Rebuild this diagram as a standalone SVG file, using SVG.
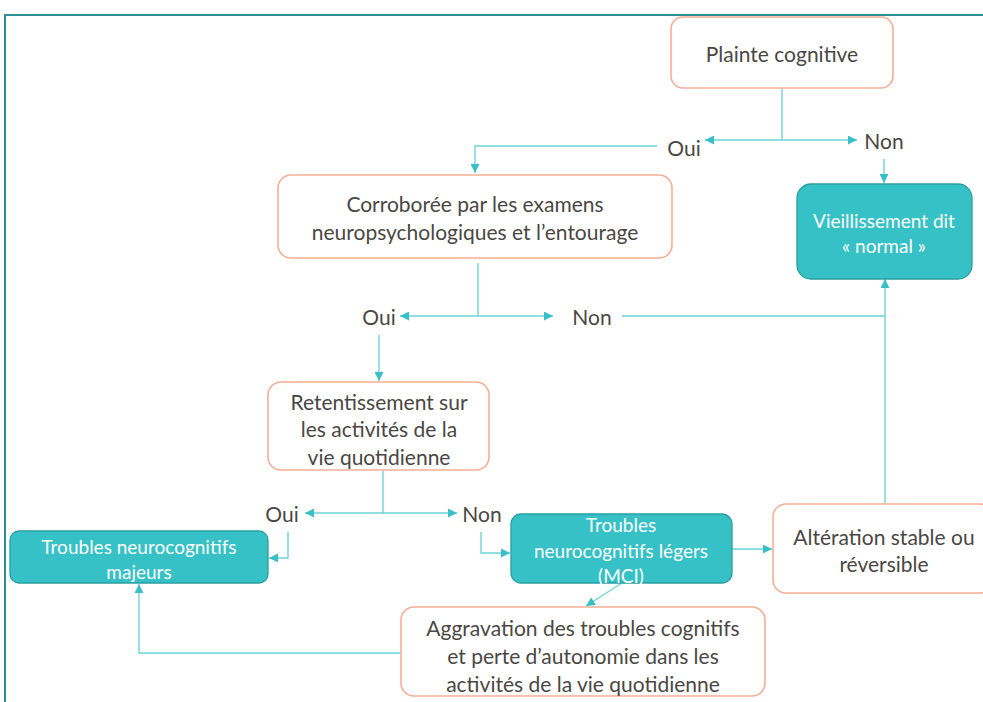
<svg xmlns="http://www.w3.org/2000/svg" width="983" height="702" viewBox="0 0 983 702">
<style>
.q{fill:#fff;stroke:#F5AE95;stroke-width:1.6}
.t{fill:#35C1C5;stroke:#2A9EA2;stroke-width:1.3}
.dk{font-family:Lato,"Open Sans","Liberation Sans",sans-serif;font-size:21px;fill:#4A4744;text-anchor:middle;dominant-baseline:central}
.wh{font-family:Lato,"Open Sans","Liberation Sans",sans-serif;font-size:19px;fill:#fff;text-anchor:middle;dominant-baseline:central}
.c{fill:none;stroke:#6DD3D8;stroke-width:1.4}
</style>
<defs>
<marker id="a" markerUnits="userSpaceOnUse" markerWidth="10" markerHeight="9" refX="9" refY="4.5" orient="auto">
<path d="M0,0 L9,4.5 L0,9 z" fill="#38BFC7"/>
</marker>
</defs>
<rect x="0" y="0" width="983" height="702" fill="#fff"/>
<path d="M5,702 V15 H983" fill="none" stroke="#2F8F92" stroke-width="2"/>
<g id="connectors">
<path class="c" d="M782,88 V140"/>
<path class="c" d="M782,140 H705" marker-end="url(#a)"/>
<path class="c" d="M782,140 H857" marker-end="url(#a)"/>
<path class="c" d="M657,146 H475 V173" marker-end="url(#a)"/>
<path class="c" d="M884,159 V183" marker-end="url(#a)"/>
<path class="c" d="M478,263 V316"/>
<path class="c" d="M478,316 H400" marker-end="url(#a)"/>
<path class="c" d="M478,316 H553" marker-end="url(#a)"/>
<path class="c" d="M622,316 H885"/>
<path class="c" d="M885,503 V279" marker-end="url(#a)"/>
<path class="c" d="M379,335 V381" marker-end="url(#a)"/>
<path class="c" d="M383,470 V513"/>
<path class="c" d="M383,513 H305" marker-end="url(#a)"/>
<path class="c" d="M383,513 H457" marker-end="url(#a)"/>
<path class="c" d="M288,532 V558 H269" marker-end="url(#a)"/>
<path class="c" d="M481,532 V553 H510" marker-end="url(#a)"/>
<path class="c" d="M732,549 H772" marker-end="url(#a)"/>
<path class="c" d="M622,583 L586,606" marker-end="url(#a)"/>
<path class="c" d="M401,653 H139 V584" marker-end="url(#a)"/>
</g>
<g id="lbl-oui1"><text class="dk" x="684" y="147">Oui</text></g>
<g id="lbl-non1"><text class="dk" x="884" y="140">Non</text></g>
<g id="lbl-oui2"><text class="dk" x="379" y="316">Oui</text></g>
<g id="lbl-non2"><text class="dk" x="592" y="316">Non</text></g>
<g id="lbl-oui3"><text class="dk" x="282" y="513">Oui</text></g>
<g id="lbl-non3"><text class="dk" x="482" y="513">Non</text></g>
<g id="plainte">
<rect class="q" x="671" y="17" width="222" height="71" rx="12"/>
<text class="dk" x="782" y="53">Plainte cognitive</text>
</g>
<g id="corroboree">
<rect class="q" x="278" y="175" width="394" height="83" rx="13"/>
<text class="dk" x="475" y="203">Corroborée par les examens</text>
<text class="dk" x="475" y="231">neuropsychologiques et l’entourage</text>
</g>
<g id="vieillissement">
<rect class="t" x="797" y="184" width="175" height="95" rx="14"/>
<text class="wh" x="884" y="220">Vieillissement dit</text>
<text class="wh" x="884" y="245">« normal »</text>
</g>
<g id="retentissement">
<rect class="q" x="268" y="382" width="221" height="88" rx="13"/>
<text class="dk" x="379" y="401">Retentissement sur</text>
<text class="dk" x="379" y="428">les activités de la</text>
<text class="dk" x="379" y="456">vie quotidienne</text>
</g>
<g id="majeurs">
<rect class="t" x="10" y="531" width="258" height="52" rx="9"/>
<text class="wh" x="139" y="546">Troubles neurocognitifs</text>
<text class="wh" x="139" y="571">majeurs</text>
</g>
<g id="mci">
<rect class="t" x="511" y="514" width="221" height="69" rx="10"/>
<text class="wh" x="621" y="524">Troubles</text>
<text class="wh" x="621" y="550">neurocognitifs légers</text>
<text class="wh" x="621" y="575">(MCI)</text>
</g>
<g id="alteration">
<rect class="q" x="773" y="504" width="220" height="89" rx="13"/>
<text class="dk" x="884" y="536">Altération stable ou</text>
<text class="dk" x="884" y="563">réversible</text>
</g>
<g id="aggravation">
<rect class="q" x="401" y="607" width="364" height="89" rx="13"/>
<text class="dk" x="583" y="627">Aggravation des troubles cognitifs</text>
<text class="dk" x="583" y="655">et perte d’autonomie dans les</text>
<text class="dk" x="583" y="683">activités de la vie quotidienne</text>
</g>
</svg>
